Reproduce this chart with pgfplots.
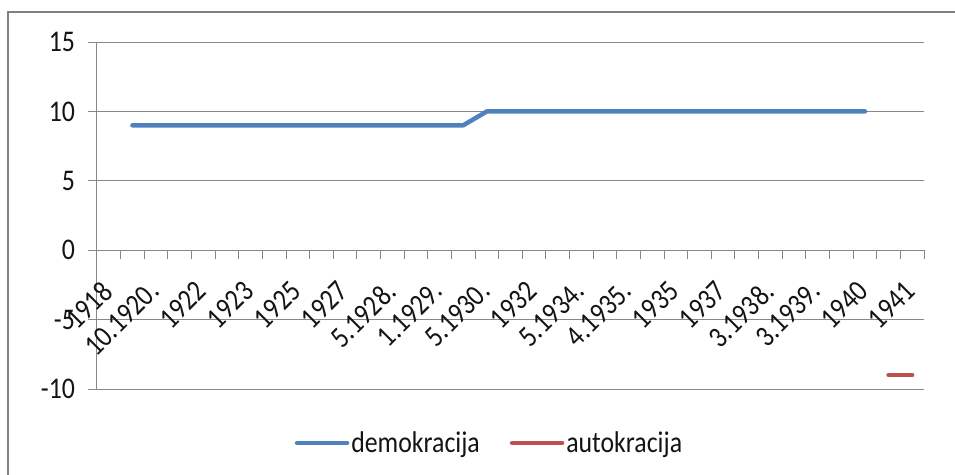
\documentclass[border=0pt]{standalone}
\usepackage{pgfplots}
\pgfplotsset{compat=1.18}
\usepackage{fontspec}
\setmainfont{Carlito}[FakeStretch=0.86]
\definecolor{democ}{HTML}{4F81BD}
\definecolor{autoc}{HTML}{C0504D}
\definecolor{gridc}{HTML}{878787}
\definecolor{borderc}{HTML}{808080}
\definecolor{textc}{HTML}{141414}
\begin{document}
\begin{tikzpicture}
\path[use as bounding box] (-97pt,-85pt) rectangle (858pt,389pt);
\clip (-97pt,-85pt) rectangle (858pt,389pt);
\draw[borderc, line width=2pt] (-88.5pt,-120pt) rectangle (900pt,377pt);
\begin{axis}[
  at={(0pt,0pt)}, anchor=south west,
  scale only axis, width=827pt, height=347pt,
  xmin=0.5, xmax=35.5, ymin=-10, ymax=15,
  axis x line*=middle, axis y line*=left,
  axis line style={gridc, line width=1pt},
  tick align=outside,
  major tick length=8.5pt,
  tick style={gridc, line width=1pt},
  ytick={-10,-5,0,5,10,15},
  yticklabels={-10,-5,0,5,10,15},
  ymajorgrids, grid style={gridc, line width=1pt},
  xtick={0.5,1.5,...,35.5},
  xticklabels={},
  extra x ticks={1,3,5,7,9,11,13,15,17,19,21,23,25,27,29,31,33,35},
  extra x tick labels={1918,10.1920.,1922,1923,1925,1927,5.1928.,1.1929.,5.1930.,1932,5.1934.,4.1935.,1935,1937,3.1938.,3.1939.,1940,1941},
  extra x tick style={major tick length=0pt, xmajorgrids=false},
  xticklabel style={font=\fontsize{30}{34}\selectfont, text=textc, inner sep=0pt, xshift=-9pt, yshift=-29pt, rotate=45, anchor=north east},
  yticklabel style={font=\fontsize{30}{34}\selectfont, text=textc, xshift=-10pt},
  legend style={at={(axis description cs:0.4746,-0.1556)}, anchor=center, draw=none, fill=none,
     font=\fontsize{30}{34}\selectfont, text=textc, legend columns=2,
     /tikz/every even column/.append style={column sep=28pt},
     nodes={inner sep=2pt}},
  legend image code/.code={\draw[#1, line width=4.5pt, line cap=round] (0pt,0pt) -- (50pt,0pt);},
  clip=false,
]
\addplot[democ, line width=4.5pt, line cap=round, line join=round] coordinates {
(2,9)(3,9)(4,9)(5,9)(6,9)(7,9)(8,9)(9,9)(10,9)(11,9)(12,9)(13,9)(14,9)(15,9)(16,9)
(17,10)(18,10)(19,10)(20,10)(21,10)(22,10)(23,10)(24,10)(25,10)(26,10)(27,10)(28,10)(29,10)(30,10)(31,10)(32,10)(33,10)
};
\addlegendentry{demokracija}
\addplot[autoc, line width=4.5pt, line cap=round] coordinates {(34,-9)(35,-9)};
\addlegendentry{autokracija}
\end{axis}
\end{tikzpicture}
\end{document}
